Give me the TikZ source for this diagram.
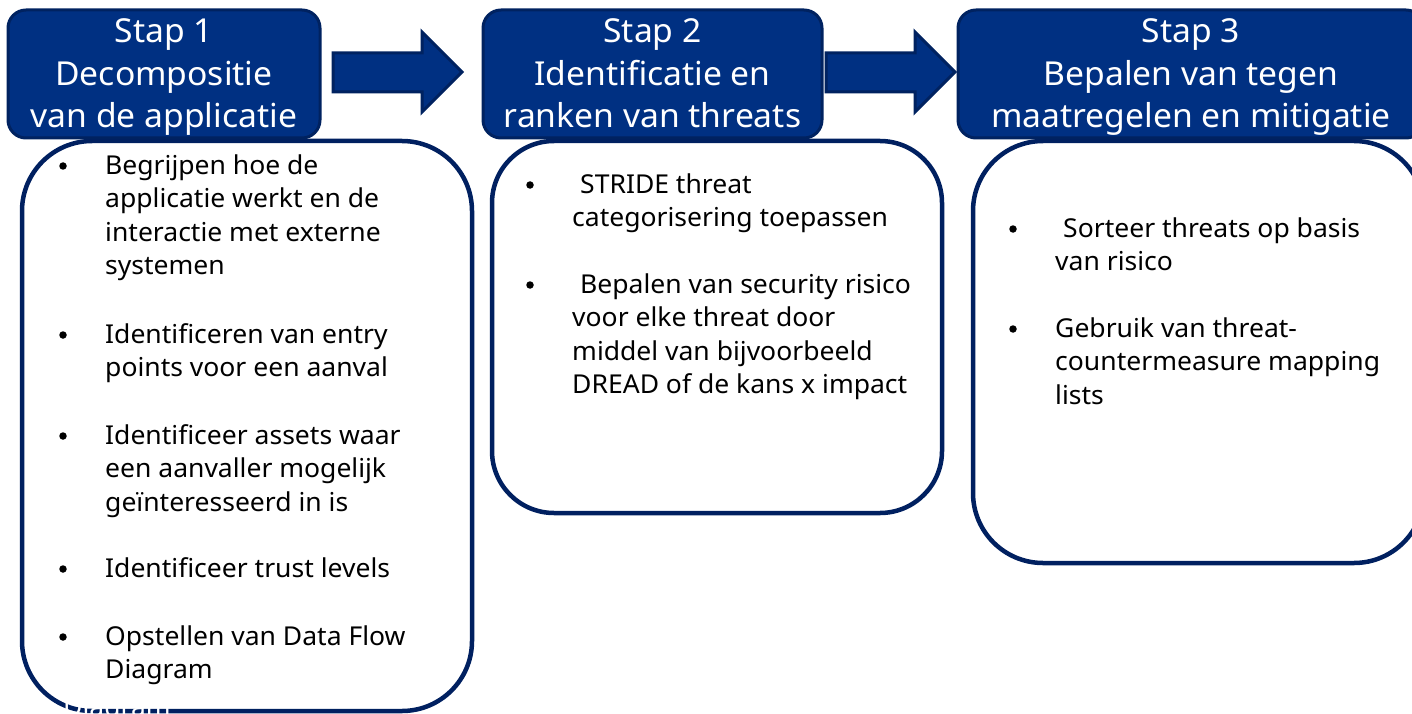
\documentclass[tikz,border=0pt]{standalone}
\usepackage{fontspec}
\setmainfont[FakeStretch=1.02]{Noto Sans}
\definecolor{hdrfill}{RGB}{0,48,130}
\definecolor{hdrline}{RGB}{0,34,96}
\definecolor{cardline}{RGB}{0,32,96}
\tikzset{
  hdr/.style={draw=hdrline, fill=hdrfill, line width=3pt, rounded corners=18pt, inner sep=0pt},
  card/.style={draw=cardline, fill=white, line width=4.5pt, inner sep=0pt},
  htext/.style={font=\fontsize{33}{42.5}\selectfont, text=white, align=center, anchor=base, inner sep=0pt},
  body/.style={font=\fontsize{26}{33.6}\selectfont, text=black, align=left, anchor=base west, inner sep=0pt},
  bul/.style={circle, fill=black, draw=none, minimum size=7.5pt, inner sep=0pt},
  blockarrow/.style={draw=hdrline, fill=hdrfill, line width=3pt, line join=miter}
}
\begin{document}
\begin{tikzpicture}[x=1pt,y=-1pt]
\useasboundingbox (0,0) rectangle (1412,714);
\clip (0,0) rectangle (1412,714);
% cards
\node[card, minimum width=450pt, minimum height=570pt, rounded corners=70pt] (c1) at (247,426) {};
\node[card, minimum width=450pt, minimum height=372pt, rounded corners=62pt] (c2) at (717,327) {};
\node[card, minimum width=451pt, minimum height=422pt, rounded corners=70pt] (c3) at (1198.5,352) {};
% headers
\node[hdr, minimum width=312pt, minimum height=128pt] (h1) at (164,74) {};
\node[hdr, minimum width=339pt, minimum height=128pt] (h2) at (652.5,74) {};
\node[hdr, minimum width=466pt, minimum height=128pt] (h3) at (1191,74) {};
% (base anchor = baseline of the last line)
\node[htext] (t1) at (164,128) {Stap 1\\Decompositie\\van de applicatie};
\node[htext] (t2) at (652.5,128) {Stap 2\\Identificatie en\\ranken van threats};
\node[htext] (t3) at (1191,128) {Stap 3\\Bepalen van tegen\\maatregelen en mitigatie};
% block arrows
\draw[blockarrow] (333,53) -- (422,53) -- (422,32) -- (462,72) -- (422,112) -- (422,92) -- (333,92) -- cycle;
\draw[blockarrow] (826,53) -- (915,53) -- (915,32) -- (955,72) -- (915,112) -- (915,92) -- (826,92) -- cycle;
% card 1 items
\node[bul] (b11) at (63,166) {};
\node[body] (i11) at (105,274.8) {Begrijpen hoe de\\applicatie werkt en de\\interactie met externe\\systemen};
\node[bul] (b12) at (63,335) {};
\node[body] (i12) at (105,376.6) {Identificeren van entry\\points voor een aanval};
\node[bul] (b13) at (63,436) {};
\node[body] (i13) at (105,511.2) {Identificeer assets waar\\een aanvaller mogelijk\\geïnteresseerd in is};
\node[bul] (b14) at (63,569) {};
\node[body] (i14) at (105,577) {Identificeer trust levels};
\node[bul] (b15) at (63,637) {};
\node[body] (i15) at (105,678.6) {Opstellen van Data Flow\\Diagram};
\node[body, text=white] (ovf) at (63,716) {Diagram};
% card 2 items
\node[bul] (b21) at (530,185) {};
\node[body] (i21) at (572,226.6) {\hspace*{8pt}STRIDE threat\\categorisering toepassen};
\node[bul] (b22) at (530,285) {};
\node[body] (i22) at (572,393.8) {\hspace*{8pt}Bepalen van security risico\\voor elke threat door\\middel van bijvoorbeeld\\DREAD of de kans x impact};
% card 3 items
\node[bul] (b31) at (1013,229) {};
\node[body] (i31) at (1055,270.6) {\hspace*{8pt}Sorteer threats op basis\\van risico};
\node[bul] (b32) at (1013,329) {};
\node[body] (i32) at (1055,404.2) {Gebruik van threat-\\countermeasure mapping\\lists};
\end{tikzpicture}
\end{document}
